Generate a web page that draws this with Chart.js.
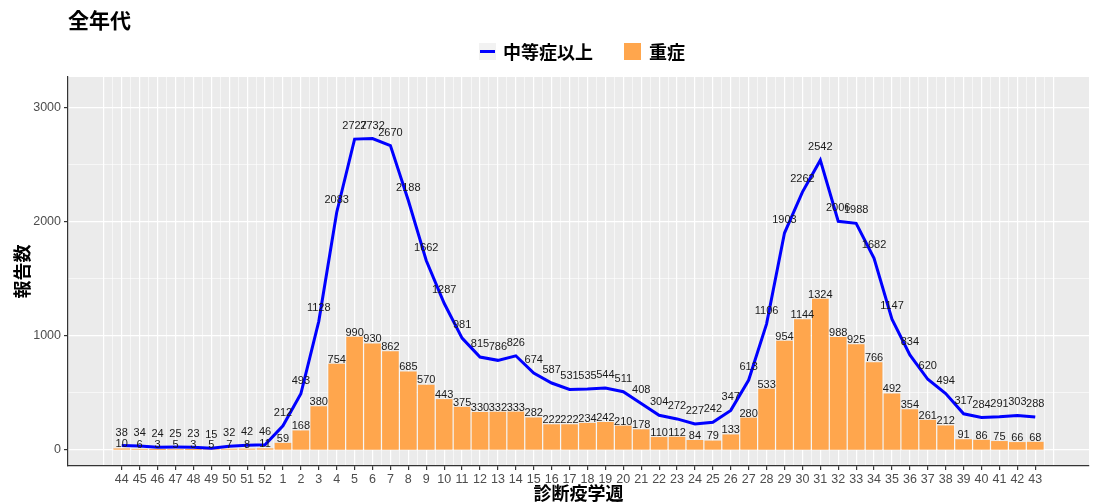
<!DOCTYPE html>
<html lang="ja">
<head>
<meta charset="utf-8">
<title>全年代</title>
<script src="https://cdn.jsdelivr.net/npm/chart.js@4.4.1/dist/chart.umd.min.js"></script>
<style>
  html, body { margin: 0; padding: 0; background: #fff; }
  #wrap { width: 1105px; height: 504px; position: relative; }
</style>
</head>
<body>
<div id="wrap"><canvas id="chart" width="1105" height="504"></canvas></div>
<script>
// 診断疫学週 (44週〜翌年43週)
const weeks = ['44', '45', '46', '47', '48', '49', '50', '51', '52',
  '1', '2', '3', '4', '5', '6', '7', '8', '9', '10', '11', '12', '13', '14', '15', '16',
  '17', '18', '19', '20', '21', '22', '23', '24', '25', '26', '27', '28', '29', '30',
  '31', '32', '33', '34', '35', '36', '37', '38', '39', '40', '41', '42', '43'];

// 中等症以上 (line)
const moderateUp = [38, 34, 24, 25, 23, 15, 32, 42, 46,
  212, 493, 1128, 2083, 2727, 2732, 2670, 2188, 1662, 1287, 981, 815, 786, 826, 674, 587,
  531, 535, 544, 511, 408, 304, 272, 227, 242, 347, 613, 1106, 1903, 2262,
  2542, 2006, 1988, 1682, 1147, 834, 620, 494, 317, 284, 291, 303, 288];

// 重症 (bars)
const severe = [10, 6, 3, 5, 3, 5, 7, 8, 11,
  59, 168, 380, 754, 990, 930, 862, 685, 570, 443, 375, 330, 332, 333, 282, 222,
  222, 234, 242, 210, 178, 110, 112, 84, 79, 133, 280, 533, 954, 1144,
  1324, 988, 925, 766, 492, 354, 261, 212, 91, 86, 75, 66, 68];

const yTicks = [0, 1000, 2000, 3000];

const isMajorX = v => Number.isInteger(v) && v >= 0 && v < weeks.length;

// value labels above bars and line points
const valueLabels = {
  id: 'valueLabels',
  afterDatasetsDraw(chart) {
    const ctx = chart.ctx;
    ctx.save();
    ctx.font = '11px "Liberation Sans", Arial, sans-serif';
    ctx.fillStyle = '#1a1a1a';
    ctx.textAlign = 'center';
    ctx.textBaseline = 'middle';
    chart.data.datasets.forEach((ds, di) => {
      const meta = chart.getDatasetMeta(di);
      meta.data.forEach((el, i) => {
        const v = ds.data[i].y;
        const off = ds.type === 'line' ? 13 : 4.5;
        ctx.fillText(String(v), el.x, el.y - off);
      });
    });
    ctx.restore();
  }
};

// title, legend and axis titles
const decorations = {
  id: 'decorations',
  afterDraw(chart) {
    const ctx = chart.ctx;
    const area = chart.chartArea;
    const cjk = '"Noto Sans CJK JP", "Noto Sans", sans-serif';
    ctx.save();
    ctx.fillStyle = '#000';
    ctx.textBaseline = 'middle';

    ctx.font = 'bold 21px ' + cjk;
    ctx.textAlign = 'left';
    ctx.fillText('全年代', 68, 20);

    // legend
    ctx.fillStyle = '#f2f2f2';
    ctx.fillRect(479, 43, 17, 17);
    ctx.strokeStyle = '#0000ff';
    ctx.lineWidth = 3;
    ctx.beginPath();
    ctx.moveTo(480, 51.5);
    ctx.lineTo(495, 51.5);
    ctx.stroke();
    ctx.fillStyle = '#000';
    ctx.font = 'bold 18px ' + cjk;
    ctx.fillText('中等症以上', 503, 52);
    ctx.fillStyle = '#ffa64d';
    ctx.fillRect(624, 43, 17, 17);
    ctx.fillStyle = '#000';
    ctx.fillText('重症', 649, 52);

    // axis titles
    ctx.font = 'bold 18px ' + cjk;
    ctx.textAlign = 'center';
    ctx.fillText('診断疫学週', (area.left + area.right) / 2, 493);
    ctx.translate(22, (area.top + area.bottom) / 2);
    ctx.rotate(-Math.PI / 2);
    ctx.fillText('報告数', 0, 0);
    ctx.restore();
  }
};

const panelBg = {
  id: 'panelBg',
  beforeDraw(chart) {
    const { ctx, chartArea: a } = chart;
    ctx.save();
    ctx.fillStyle = '#ebebeb';
    ctx.fillRect(a.left, a.top, a.right - a.left, a.bottom - a.top);
    ctx.restore();
  }
};

new Chart(document.getElementById('chart'), {
  type: 'bar',
  data: {
    datasets: [{
      type: 'line',
      label: '中等症以上',
      data: moderateUp.map((v, i) => ({ x: i, y: v })),
      borderColor: '#0000ff',
      borderWidth: 3,
      pointRadius: 0,
      tension: 0,
      fill: false,
      order: 0
    }, {
      type: 'bar',
      label: '重症',
      data: severe.map((v, i) => ({ x: i, y: v })),
      backgroundColor: '#ffa64d',
      borderWidth: 0,
      barThickness: 16,
      order: 1
    }]
  },
  options: {
    responsive: false,
    maintainAspectRatio: false,
    animation: false,
    layout: { padding: { top: 77, right: 16, left: 0, bottom: 0 } },
    plugins: {
      legend: { display: false },
      title: { display: false },
      tooltip: { enabled: false }
    },
    scales: {
      x: {
        type: 'linear',
        min: -3,
        max: 54,
        offset: false,
        afterBuildTicks: axis => {
          const t = [];
          for (let v = -1; v <= 52; v += 0.5) t.push({ value: v });
          axis.ticks = t;
        },
        afterFit: axis => { axis.height = 38; },
        ticks: {
          autoSkip: false,
          maxRotation: 0,
          padding: 2,
          color: '#4d4d4d',
          font: { family: '"Liberation Sans", Arial, sans-serif', size: 12.5 },
          callback: v => isMajorX(v) ? weeks[v] : ''
        },
        grid: {
          offset: false,
          color: '#ffffff',
          lineWidth: c => Number.isInteger(c.tick.value) ? 1.2 : 0.6,
          tickColor: c => isMajorX(c.tick.value) ? '#333333' : 'rgba(0,0,0,0)',
          tickLength: 4
        },
        border: { display: true, color: '#333333', width: 1.2 }
      },
      y: {
        min: -141,
        max: 3272,
        afterBuildTicks: axis => {
          const t = [];
          for (let v = 0; v <= 3000; v += 500) t.push({ value: v });
          axis.ticks = t;
        },
        afterFit: axis => { axis.width = 68; },
        ticks: {
          padding: 3,
          color: '#4d4d4d',
          font: { family: '"Liberation Sans", Arial, sans-serif', size: 12.5 },
          callback: v => yTicks.includes(v) ? String(v) : ''
        },
        grid: {
          color: '#ffffff',
          lineWidth: c => yTicks.includes(c.tick.value) ? 1.2 : 0.6,
          tickColor: c => yTicks.includes(c.tick.value) ? '#333333' : 'rgba(0,0,0,0)',
          tickLength: 4
        },
        border: { display: true, color: '#333333', width: 1.2 }
      }
    }
  },
  plugins: [panelBg, valueLabels, decorations]
});
</script>
</body>
</html>
